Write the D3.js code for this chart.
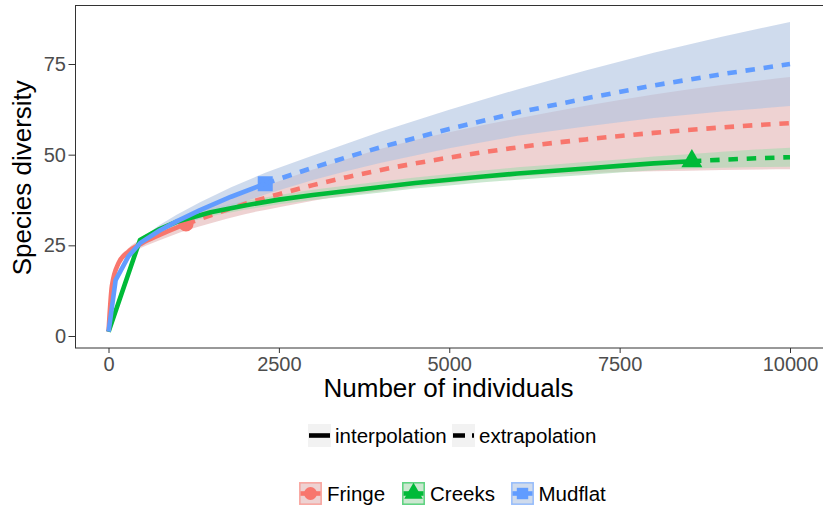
<!DOCTYPE html>
<html>
<head>
<meta charset="utf-8">
<script src="https://cdn.jsdelivr.net/npm/d3@7"></script>
<style>
  body { margin: 0; background: #fff; }
  svg text { font-family: "Liberation Sans", Arial, Helvetica, sans-serif; }
</style>
</head>
<body>
<div id="chart"></div>
<script>
// sites, colours, observed reference samples
const sites = ['Fringe', 'Creeks', 'Mudflat'];
const siteColors = ['#F8766D', '#00BA38', '#619CFF'];
const ribbonColors = ['rgb(227,180,180)', 'rgb(168,217,177)', 'rgb(175,195,225)'];
const siteShapes = [d3.symbolCircle, d3.symbolTriangle, d3.symbolSquare];
const observedSize = [1137, 8560, 2300];
const observedDiv = [30.9, 48.2, 42.0];

// Fringe
const fringeSize  = [1, 50, 150, 290, 490, 750, 1000, 1137, 1500, 2000, 2500, 3000, 3500, 4000, 5000, 6000, 7000, 8000, 9000, 10000];
const fringeQD    = [1.2, 13.8, 20.2, 23.2, 25.6, 27.9, 29.9, 30.9, 33.3, 36.4, 39.1, 41.6, 43.8, 45.8, 49.2, 52.0, 54.2, 56.0, 57.5, 58.7];
const fringeLower = [1.2, 13.3, 19.4, 22.2, 24.4, 26.4, 28.2, 29.1, 31.1, 33.6, 35.5, 37.3, 38.8, 40.0, 42.2, 44.0, 44.9, 45.4, 45.8, 46.0];
const fringeUpper = [1.2, 14.3, 21.0, 24.2, 26.8, 29.4, 31.6, 32.7, 35.5, 39.2, 42.7, 45.9, 48.8, 51.6, 56.2, 60.0, 63.5, 66.6, 69.2, 71.4];

// Creeks
const creeksSize  = [1, 462, 750, 1000, 1500, 2000, 2500, 3000, 3500, 4000, 4500, 5000, 5500, 6000, 6500, 7000, 7500, 8000, 8560, 9000, 9500, 10000];
const creeksQD    = [1.2, 26.5, 29.5, 31.5, 34.1, 36.0, 37.6, 38.9, 40.0, 41.1, 42.2, 43.1, 44.0, 44.8, 45.5, 46.2, 46.9, 47.6, 48.2, 48.6, 49.0, 49.3];
const creeksLower = [1.2, 25.9, 28.8, 30.6, 33.0, 34.8, 36.3, 37.5, 38.5, 39.6, 40.7, 41.5, 42.4, 43.1, 43.8, 44.4, 45.1, 45.7, 46.2, 46.4, 46.6, 46.7];
const creeksUpper = [1.2, 27.1, 30.2, 32.4, 35.2, 37.2, 38.9, 40.3, 41.5, 42.6, 43.7, 44.7, 45.6, 46.5, 47.2, 48.0, 48.7, 49.5, 50.2, 50.8, 51.4, 51.9];

// Mudflat
const mudflatSize  = [1, 105, 290, 462, 750, 1000, 1343, 1800, 2300, 2500, 3000, 3500, 4000, 5000, 6000, 7000, 8000, 9000, 10000];
const mudflatQD    = [1.2, 15.4, 21.9, 25.6, 29.1, 31.6, 34.7, 38.4, 42.0, 43.3, 46.4, 49.3, 52.1, 57.1, 61.6, 65.5, 69.1, 72.2, 75.0];
const mudflatLower = [1.2, 14.8, 21.0, 24.5, 27.6, 29.8, 32.5, 35.8, 39.0, 40.2, 43.0, 45.5, 47.8, 51.8, 55.2, 57.8, 60.1, 61.9, 63.4];
const mudflatUpper = [1.2, 16.0, 22.8, 26.7, 30.6, 33.4, 36.9, 41.0, 45.0, 46.4, 49.8, 53.1, 56.4, 62.4, 68.0, 73.2, 78.1, 82.5, 86.6];

const xTicks = [0, 2500, 5000, 7500, 10000];
const yTicks = [0, 25, 50, 75];
const methodLabels = ['interpolation', 'extrapolation'];

const seriesData = [
  { size: fringeSize, qd: fringeQD, lo: fringeLower, hi: fringeUpper, curve: d3.curveMonotoneX },
  { size: creeksSize, qd: creeksQD, lo: creeksLower, hi: creeksUpper, curve: d3.curveLinear },
  { size: mudflatSize, qd: mudflatQD, lo: mudflatLower, hi: mudflatUpper, curve: d3.curveLinear }
];

const W = 823, H = 512;
const panel = { left: 75.5, top: 5.5, right: 823.5, bottom: 348 };

const svg = d3.select('#chart').append('svg')
  .attr('width', W).attr('height', H);

const x = d3.scaleLinear().domain([0, 10000]).range([108.5, 790]);
const y = d3.scaleLinear().domain([0, 75]).range([336, 64]);

const plot = svg.append('g');
plot.append('clipPath').attr('id', 'clip')
  .append('rect').attr('x', panel.left).attr('y', panel.top)
  .attr('width', panel.right - panel.left).attr('height', panel.bottom - panel.top);
const inner = plot.append('g').attr('clip-path', 'url(#clip)');

// ribbons
seriesData.forEach((s, i) => {
  const pts = s.size.map((n, k) => ({ n, lo: s.lo[k], hi: s.hi[k] }));
  const area = d3.area().curve(s.curve)
    .x(d => x(d.n)).y0(d => y(d.lo)).y1(d => y(d.hi));
  inner.append('path').datum(pts)
    .attr('d', area)
    .attr('fill', ribbonColors[i])
    .attr('fill-opacity', 0.6);
});

// observed points
seriesData.forEach((s, i) => {
  const sz = i === 0 ? 180 : (i === 1 ? 190 : 225);
  inner.append('path')
    .attr('d', d3.symbol().type(siteShapes[i]).size(sz)())
    .attr('transform', `translate(${x(observedSize[i])},${y(observedDiv[i])})`)
    .attr('fill', siteColors[i]);
});

// lines: solid interpolation, dashed extrapolation
seriesData.forEach((s, i) => {
  const pts = s.size.map((n, k) => ({ n, v: s.qd[k] }));
  const interp = pts.filter(d => d.n <= observedSize[i]);
  const extrap = pts.filter(d => d.n >= observedSize[i]);
  const line = d3.line().curve(s.curve).x(d => x(d.n)).y(d => y(d.v));
  inner.append('path').datum(interp)
    .attr('d', line).attr('fill', 'none')
    .attr('stroke', siteColors[i]).attr('stroke-width', 4.6)
    .attr('stroke-linejoin', 'round');
  inner.append('path').datum(extrap)
    .attr('d', line).attr('fill', 'none')
    .attr('stroke', siteColors[i]).attr('stroke-width', 4.6)
    .attr('stroke-dasharray', '9.5,8.8');
});

// panel border
svg.append('rect')
  .attr('x', panel.left).attr('y', panel.top)
  .attr('width', panel.right - panel.left).attr('height', panel.bottom - panel.top)
  .attr('fill', 'none').attr('stroke', '#333').attr('stroke-width', 1);

// axes
const xAxis = svg.append('g')
  .attr('transform', `translate(0,${panel.bottom})`)
  .call(d3.axisBottom(x).tickValues(xTicks).tickFormat(d3.format('d')).tickSize(5).tickPadding(4));
const yAxis = svg.append('g')
  .attr('transform', `translate(${panel.left},0)`)
  .call(d3.axisLeft(y).tickValues(yTicks).tickSize(7).tickPadding(2.5));
[xAxis, yAxis].forEach(a => {
  a.select('.domain').remove();
  a.selectAll('.tick line').attr('stroke', '#333');
  a.selectAll('.tick text').attr('fill', '#4d4d4d')
    .style('font-size', '20px')
    .style('font-family', '"Liberation Sans", Arial, sans-serif');
});

// axis titles
svg.append('text')
  .attr('x', (panel.left + panel.right) / 2 - 1).attr('y', 397)
  .attr('text-anchor', 'middle').style('font-size', '26px').attr('fill', '#000')
  .text('Number of individuals');
svg.append('text')
  .attr('transform', `translate(31,${(panel.top + panel.bottom) / 2 + 1}) rotate(-90)`)
  .attr('text-anchor', 'middle').style('font-size', '26px').attr('fill', '#000')
  .text('Species diversity');

// legend: method
const methodKeyX = [308, 452];
const methodTextX = [335, 479];
methodLabels.forEach((lab, i) => {
  const g = svg.append('g');
  g.append('rect').attr('x', methodKeyX[i]).attr('y', 424).attr('width', 23).attr('height', 23)
    .attr('fill', '#f2f2f2');
  g.append('line')
    .attr('x1', methodKeyX[i] + 1).attr('x2', methodKeyX[i] + 22)
    .attr('y1', 435.5).attr('y2', 435.5)
    .attr('stroke', '#000').attr('stroke-width', 4.6)
    .attr('stroke-dasharray', i === 1 ? '12,7' : null);
  g.append('text').attr('x', methodTextX[i]).attr('y', 443)
    .style('font-size', '20.5px').attr('fill', '#000').text(lab);
});

// legend: sites
const siteKeyX = [299, 402, 511];
const siteTextX = [327, 430, 538.5];
sites.forEach((name, i) => {
  const g = svg.append('g');
  const kx = siteKeyX[i], ky = 482;
  g.append('rect').attr('x', kx + 0.75).attr('y', ky + 0.75).attr('width', 21.5).attr('height', 21.5)
    .attr('fill', ribbonColors[i]).attr('fill-opacity', 0.6)
    .attr('stroke', siteColors[i]).attr('stroke-opacity', 0.6).attr('stroke-width', 1.5);
  g.append('line').attr('x1', kx + 1.5).attr('x2', kx + 21.5)
    .attr('y1', ky + 11.5).attr('y2', ky + 11.5)
    .attr('stroke', siteColors[i]).attr('stroke-width', 4.6);
  g.append('path')
    .attr('d', d3.symbol().type(siteShapes[i]).size(i === 1 ? 150 : 130)())
    .attr('transform', `translate(${kx + 11.5},${ky + 11.5})`)
    .attr('fill', siteColors[i]);
  g.append('text').attr('x', siteTextX[i]).attr('y', 501)
    .style('font-size', '20.5px').attr('fill', '#000').text(name);
});
</script>
</body>
</html>
